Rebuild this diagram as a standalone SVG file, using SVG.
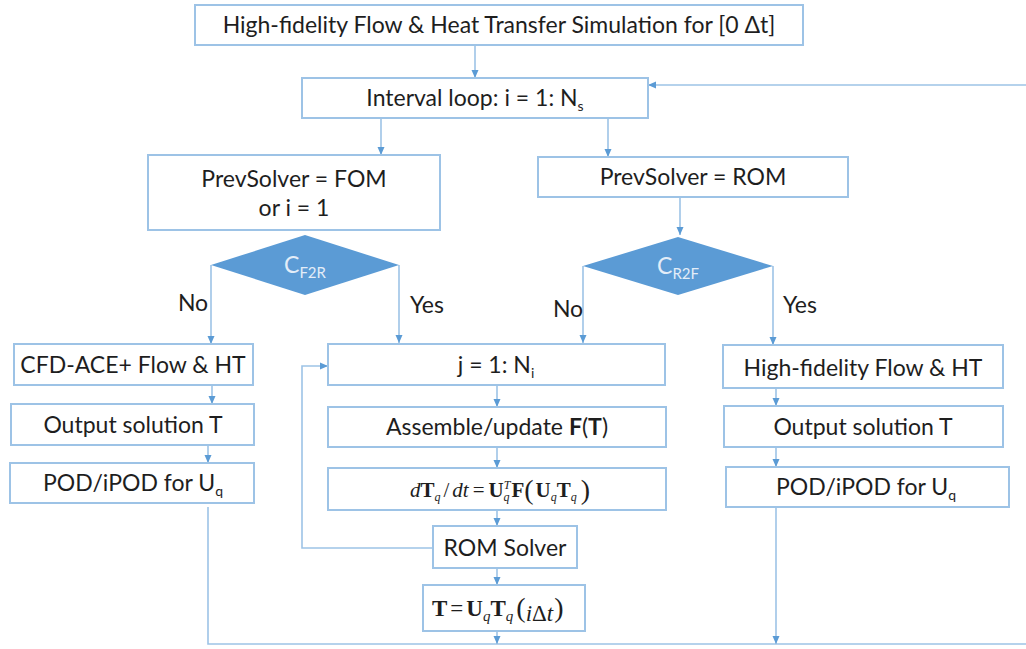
<svg xmlns="http://www.w3.org/2000/svg" width="1026" height="649" viewBox="0 0 1026 649">
<defs>
<marker id="ah" markerWidth="10" markerHeight="10" refX="9" refY="5" orient="auto" markerUnits="userSpaceOnUse">
<path d="M1,1.5 L9,5 L1,8.5 Z" fill="#5b9bd5"/>
</marker>
<style>
.box{fill:#fff;stroke:#9dc3e6;stroke-width:2}
.dia{fill:#5b9bd5;stroke:none}
.t{font-family:Lato,"Liberation Sans",sans-serif;font-size:23px;fill:#1e1e1e;text-anchor:middle}
.dt{font-family:Lato,"Liberation Sans",sans-serif;font-size:23px;fill:#e3edf8;text-anchor:middle}
.m{font-family:"Liberation Serif",serif;fill:#1e1e1e}
.c{fill:none;stroke:#9dc3e6;stroke-width:1.6}
.a{marker-end:url(#ah)}
</style>
</defs>
<rect width="1026" height="649" fill="#fff"/>
<g id="connectors">
<path class="c a" d="M475,45 V78"/>
<path class="c a" d="M1026,85 H648"/>
<path class="c a" d="M381,118 V155"/>
<path class="c a" d="M608,118 V157"/>
<path class="c a" d="M680,197 V235"/>
<path class="c a" d="M211,265 V344"/>
<path class="c a" d="M399,265 V343"/>
<path class="c a" d="M583,266 V343"/>
<path class="c a" d="M773,266 V345"/>
<path class="c a" d="M212,385 V404"/>
<path class="c a" d="M208,445 V463"/>
<path class="c" d="M208,507 V644 H1026"/>
<path class="c a" d="M497,385 V407"/>
<path class="c a" d="M497,447 V468"/>
<path class="c a" d="M497,510 V526"/>
<path class="c a" d="M497,568 V585"/>
<path class="c a" d="M497,631 V644"/>
<path class="c a" d="M433,548 H302 V366 H328"/>
<path class="c a" d="M776,388 V406"/>
<path class="c a" d="M776,447 V467"/>
<path class="c a" d="M776,507 V644"/>
</g>
<g id="n_top"><rect class="box" x="195" y="5" width="608" height="40"/><text class="t" x="499" y="33" font-size="23.5">High-fidelity Flow &amp; Heat Transfer Simulation for [0 Δt]</text></g>
<g id="n_interval"><rect class="box" x="302" y="78" width="346" height="40"/><text class="t" x="475" y="106">Interval loop: i = 1: N<tspan font-size="14" dy="5">s</tspan></text></g>
<g id="n_fom"><rect class="box" x="148" y="155" width="292" height="75"/><text class="t" x="294" y="187">PrevSolver = FOM</text><text class="t" x="294" y="216">or i = 1</text></g>
<g id="n_rom"><rect class="box" x="538" y="157" width="310" height="40"/><text class="t" x="693" y="185">PrevSolver = ROM</text></g>
<g id="d_f2r"><path class="dia" d="M305,235 L399,265 L305,295 L211,265 Z"/><text class="dt" x="305" y="273">C<tspan font-size="15" dy="5">F2R</tspan></text></g>
<g id="d_r2f"><path class="dia" d="M678,237 L773,266 L678,295 L583,266 Z"/><text class="dt" x="678" y="274">C<tspan font-size="15" dy="5">R2F</tspan></text></g>
<g id="labels">
<text class="t" x="193" y="311">No</text>
<text class="t" x="427" y="313">Yes</text>
<text class="t" x="568" y="317">No</text>
<text class="t" x="800" y="313">Yes</text>
</g>
<g id="n_cfd"><rect class="box" x="14" y="344" width="239" height="41"/><text class="t" x="133" y="373">CFD-ACE+ Flow &amp; HT</text></g>
<g id="n_out1"><rect class="box" x="11" y="404" width="243" height="41"/><text class="t" x="133" y="433">Output solution T</text></g>
<g id="n_pod1"><rect class="box" x="10" y="463" width="244" height="40"/><text class="t" x="133" y="491">POD/iPOD for U<tspan font-size="14" dy="5">q</tspan></text></g>
<g id="n_j"><rect class="box" x="328" y="344" width="337" height="41"/><text class="t" x="496" y="373">j = 1: N<tspan font-size="14" dy="5">i</tspan></text></g>
<g id="n_asm"><rect class="box" x="328" y="407" width="338" height="40"/><text class="t" x="497" y="435">Assemble/update <tspan font-weight="bold">F</tspan>(<tspan font-weight="bold">T</tspan>)</text></g>
<g id="n_ode"><rect class="box" x="328" y="468" width="338" height="42"/>
<text class="m" x="410" y="497" font-size="21"><tspan font-style="italic">d</tspan><tspan font-weight="bold">T</tspan><tspan font-style="italic" font-size="12" dy="4">q</tspan><tspan dy="-4" dx="3">/</tspan><tspan font-style="italic" dx="3">dt</tspan><tspan dx="4">=</tspan><tspan dx="4" font-weight="bold">U</tspan><tspan font-style="italic" font-size="12" dy="-8">T</tspan><tspan font-style="italic" font-size="12" dx="-7" dy="12">q</tspan><tspan font-weight="bold" dy="-4" dx="2">F</tspan><tspan font-size="28" dy="2">(</tspan><tspan font-weight="bold" dy="-2" dx="2">U</tspan><tspan font-style="italic" font-size="12" dy="4">q</tspan><tspan font-weight="bold" dy="-4">T</tspan><tspan font-style="italic" font-size="12" dy="4">q</tspan><tspan font-size="28" dy="-2" dx="4">)</tspan></text></g>
<g id="n_romsolver"><rect class="box" x="433" y="526" width="144" height="42"/><text class="t" x="505" y="556">ROM Solver</text></g>
<g id="n_T"><rect class="box" x="423" y="585" width="162" height="46"/>
<text class="m" x="432" y="616" font-size="23"><tspan font-weight="bold">T</tspan><tspan dx="3">=</tspan><tspan dx="3" font-weight="bold">U</tspan><tspan font-style="italic" font-size="15" dy="5">q</tspan><tspan font-weight="bold" dy="-5">T</tspan><tspan font-style="italic" font-size="15" dy="5">q</tspan><tspan font-size="28" dy="-4" dx="3">(</tspan><tspan font-style="italic" dy="4">i</tspan><tspan>Δ</tspan><tspan font-style="italic">t</tspan><tspan font-size="28" dy="-4" dx="1">)</tspan></text></g>
<g id="n_hf"><rect class="box" x="723" y="345" width="280" height="43"/><text class="t" x="863" y="376">High-fidelity Flow &amp; HT</text></g>
<g id="n_out2"><rect class="box" x="724" y="406" width="279" height="41"/><text class="t" x="863" y="435">Output solution T</text></g>
<g id="n_pod2"><rect class="box" x="726" y="467" width="283" height="40"/><text class="t" x="866" y="495">POD/iPOD for U<tspan font-size="14" dy="5">q</tspan></text></g>
</svg>
